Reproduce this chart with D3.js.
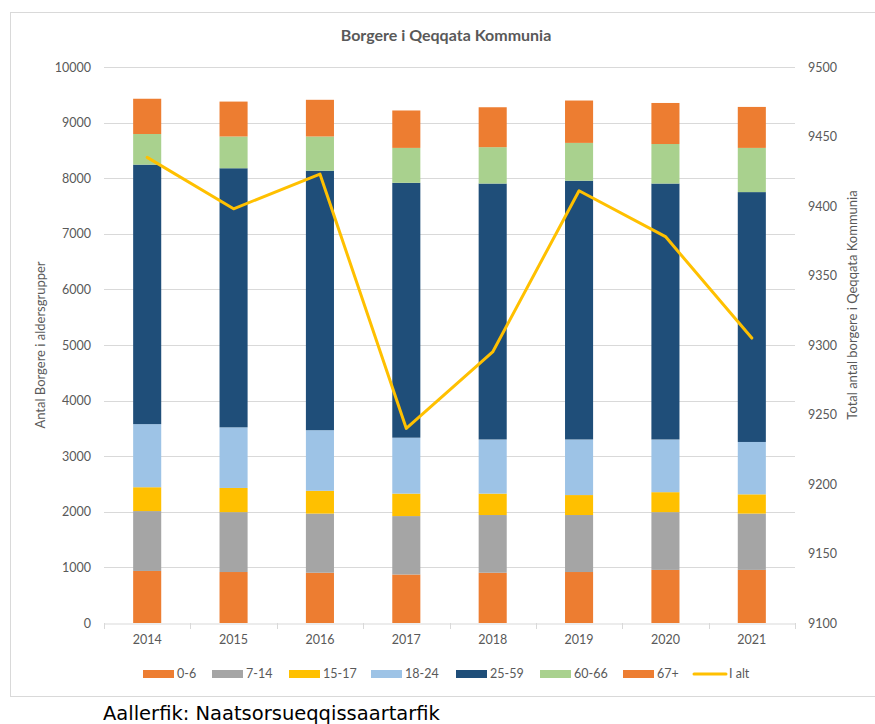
<!DOCTYPE html>
<html>
<head>
<meta charset="utf-8">
<script src="https://cdn.jsdelivr.net/npm/d3@7"></script>
<style>
  body { margin: 0; background: #fff; }
  text { font-family: Lato, "Liberation Sans", sans-serif; }
</style>
</head>
<body>
<svg></svg>
<script>
// Chart data
const years = ["2014", "2015", "2016", "2017", "2018", "2019", "2020", "2021"];
const groups = ["0-6", "7-14", "15-17", "18-24", "25-59", "60-66", "67+"];
const groupColors = ["#ED7D31", "#A5A5A5", "#FFC000", "#9DC3E6", "#1F4E79", "#A9D18E", "#ED7D31"];
const age0to6   = [936, 917, 904, 872, 904, 917, 955, 955];
const age7to14  = [1077, 1077, 1064, 1051, 1038, 1025, 1039, 1013];
const age15to17 = [429, 435, 410, 404, 385, 359, 359, 346];
const age18to24 = [1135, 1090, 1090, 1006, 974, 1000, 948, 942];
const age25to59 = [4667, 4660, 4667, 4584, 4603, 4654, 4603, 4494];
const age60to66 = [551, 571, 615, 628, 654, 680, 711, 795];
const age67plus = [634, 628, 660, 673, 718, 762, 738, 737];
const totalAll  = [9435, 9398, 9423, 9240, 9295, 9411, 9378, 9305];
const leftTicks = [0, 1000, 2000, 3000, 4000, 5000, 6000, 7000, 8000, 9000, 10000];
const rightTicks = [9100, 9150, 9200, 9250, 9300, 9350, 9400, 9450, 9500];

const width = 875;
const height = 724;
const textGray = "#595959";
const gridGray = "#d9d9d9";

const svg = d3.select("svg")
    .attr("width", width)
    .attr("height", height);

// Chart frame
svg.append("rect")
    .attr("x", 10.5)
    .attr("y", 12.5)
    .attr("width", 870)
    .attr("height", 684)
    .attr("fill", "#fff")
    .attr("stroke", gridGray)
    .attr("stroke-width", 1);

// Scales
const x = d3.scaleBand()
    .domain(years)
    .range([104, 795])
    .paddingInner(0.675)
    .paddingOuter(0.3375);

const yLeft = d3.scaleLinear()
    .domain([0, 10000])
    .range([623, 67]);

const yRight = d3.scaleLinear()
    .domain([9100, 9500])
    .range([623, 67]);

// Gridlines
svg.append("g")
    .selectAll("line")
    .data(leftTicks.slice(1))
    .enter()
    .append("line")
    .attr("x1", 104)
    .attr("x2", 795)
    .attr("y1", d => Math.round(yLeft(d)) + 0.5)
    .attr("y2", d => Math.round(yLeft(d)) + 0.5)
    .attr("stroke", gridGray)
    .attr("stroke-width", 1);

// Stacked bars
const rows = years.map((yr, i) => ({
    year: yr,
    "0-6": age0to6[i],
    "7-14": age7to14[i],
    "15-17": age15to17[i],
    "18-24": age18to24[i],
    "25-59": age25to59[i],
    "60-66": age60to66[i],
    "67+": age67plus[i]
}));

const stacked = d3.stack().keys(groups)(rows);

svg.append("g")
    .selectAll("g")
    .data(stacked)
    .enter()
    .append("g")
    .attr("fill", (d, i) => groupColors[i])
    .selectAll("rect")
    .data(d => d)
    .enter()
    .append("rect")
    .attr("x", d => x(d.data.year))
    .attr("width", x.bandwidth())
    .attr("y", d => yLeft(d[1]))
    .attr("height", d => yLeft(d[0]) - yLeft(d[1]));

// X axis
const xAxis = svg.append("g")
    .attr("transform", "translate(0,623.5)")
    .call(d3.axisBottom(x).tickSize(0).tickPadding(12).tickSizeOuter(0));
xAxis.select(".domain").attr("stroke", gridGray);
xAxis.selectAll("text")
    .attr("fill", textGray)
    .style("font-size", "12.5px");

// Category boundary ticks
const step = x.step();
svg.append("g")
    .selectAll("line")
    .data(d3.range(years.length + 1))
    .enter()
    .append("line")
    .attr("x1", i => Math.round(104 + i * step) + 0.5)
    .attr("x2", i => Math.round(104 + i * step) + 0.5)
    .attr("y1", 623)
    .attr("y2", 629)
    .attr("stroke", gridGray);

// Left axis
const leftAxis = svg.append("g")
    .attr("transform", "translate(104,0)")
    .call(d3.axisLeft(yLeft).tickValues(leftTicks).tickFormat(d3.format("d")).tickSize(0).tickPadding(13));
leftAxis.select(".domain").remove();
leftAxis.selectAll("text")
    .attr("fill", textGray)
    .style("font-size", "12.5px");

// Right axis
const rightAxis = svg.append("g")
    .attr("transform", "translate(795,0)")
    .call(d3.axisRight(yRight).tickValues(rightTicks).tickFormat(d3.format("d")).tickSize(0).tickPadding(13));
rightAxis.select(".domain").remove();
rightAxis.selectAll("text")
    .attr("fill", textGray)
    .style("font-size", "12.5px");

// Total line
const line = d3.line()
    .x((d, i) => x(years[i]) + x.bandwidth() / 2)
    .y(d => yRight(d));

svg.append("path")
    .datum(totalAll)
    .attr("d", line)
    .attr("fill", "none")
    .attr("stroke", "#FFC000")
    .attr("stroke-width", 3)
    .attr("stroke-linejoin", "round")
    .attr("stroke-linecap", "round");

// Title
svg.append("text")
    .attr("x", 446)
    .attr("y", 41)
    .attr("text-anchor", "middle")
    .attr("fill", textGray)
    .style("font-size", "16px")
    .style("font-weight", "bold")
    .text("Borgere i Qeqqata Kommunia");

// Axis titles
svg.append("text")
    .attr("transform", "translate(45,345) rotate(-90)")
    .attr("text-anchor", "middle")
    .attr("fill", textGray)
    .style("font-size", "13px")
    .text("Antal Borgere i aldersgrupper");

svg.append("text")
    .attr("transform", "translate(857,305) rotate(-90)")
    .attr("text-anchor", "middle")
    .attr("fill", textGray)
    .style("font-size", "13px")
    .text("Total antal borgere i Qeqqata Kommunia");

// Legend
const legendX = [143, 212, 289, 371, 456, 540, 623];
const legend = svg.append("g");
groups.forEach((g, i) => {
    legend.append("rect")
        .attr("x", legendX[i])
        .attr("y", 670)
        .attr("width", 31)
        .attr("height", 8)
        .attr("fill", groupColors[i]);
    legend.append("text")
        .attr("x", legendX[i] + 34)
        .attr("y", 678)
        .attr("fill", textGray)
        .style("font-size", "12.5px")
        .text(g);
});
legend.append("line")
    .attr("x1", 694)
    .attr("x2", 726)
    .attr("y1", 674)
    .attr("y2", 674)
    .attr("stroke", "#FFC000")
    .attr("stroke-width", 3)
    .attr("stroke-linecap", "round");
legend.append("text")
    .attr("x", 729)
    .attr("y", 678)
    .attr("fill", textGray)
    .style("font-size", "12.5px")
    .text("I alt");

// Source note
svg.append("text")
    .attr("x", 103)
    .attr("y", 720)
    .attr("fill", "#000")
    .style("font-family", "'DejaVu Sans', sans-serif")
    .style("font-size", "19.5px")
    .text("Aallerfik: Naatsorsueqqissaartarfik");
</script>
</body>
</html>
